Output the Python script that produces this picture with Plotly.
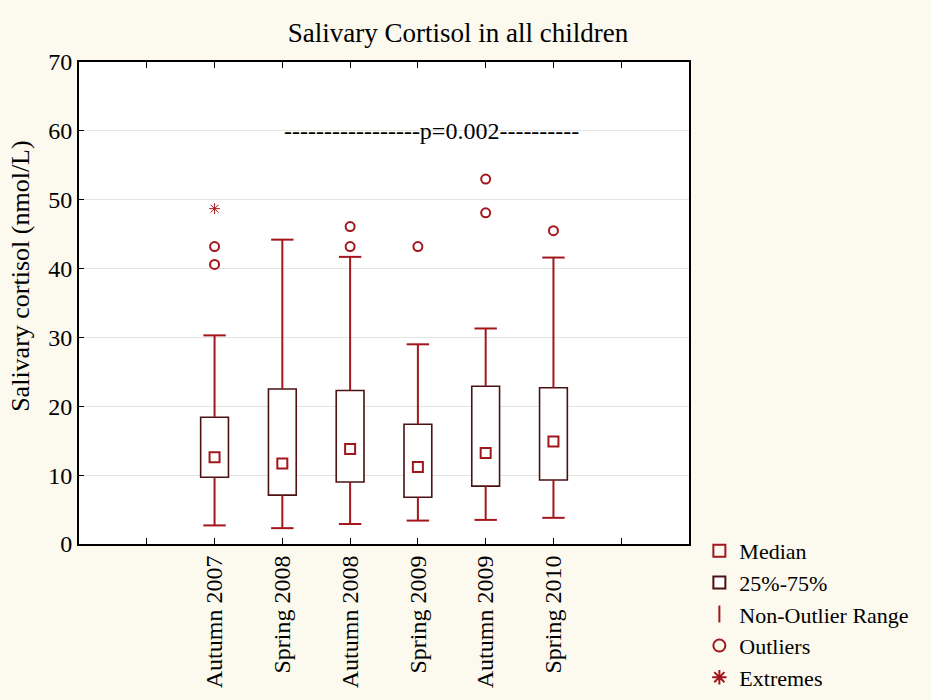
import plotly.graph_objects as go

categories = ["Autumn 2007", "Spring 2008", "Autumn 2008", "Spring 2009", "Autumn 2009", "Spring 2010"]
lower_whisker = [2.7, 2.3, 2.9, 3.4, 3.5, 3.8]
q1 = [9.7, 7.1, 9.0, 6.8, 8.4, 9.3]
median = [12.6, 11.7, 13.8, 11.2, 13.2, 14.9]
q3 = [18.4, 22.5, 22.3, 17.4, 22.9, 22.7]
upper_whisker = [30.3, 44.2, 41.7, 29.0, 31.3, 41.6]
outliers = [[43.2, 40.6], [], [46.1, 43.2], [43.2], [53.0, 48.1], [45.5]]
extremes = [[48.7], [], [], [], [], []]
y_ticks = [0, 10, 20, 30, 40, 50, 60, 70]
p_label = "-----------------p=0.002----------"
y_title = "Salivary cortisol (nmol/L)"

FONT = "Liberation Serif, Times New Roman, serif"
RED = "#a3161c"
DARK = "#4a1212"
BG = "#fcf9ee"

pos = [i + 2 for i in range(len(categories))]

fig = go.Figure()

# IQR boxes
fig.add_trace(go.Bar(
    x=pos, y=[b - a for a, b in zip(q1, q3)], base=q1, width=0.41,
    marker=dict(color="white", line=dict(color=DARK, width=1.6)),
    name="25%-75%", legendrank=2, hoverinfo="skip"))

# whiskers
wx, wy = [], []
for p, a, b, lo, hi in zip(pos, q1, q3, lower_whisker, upper_whisker):
    wx += [p, p, None, p, p, None]
    wy += [b, hi, None, a, lo, None]
fig.add_trace(go.Scatter(x=wx, y=wy, mode="lines", line=dict(color=RED, width=2),
                         showlegend=False, hoverinfo="skip"))
cx, cy = [], []
for p, lo, hi in zip(pos, lower_whisker, upper_whisker):
    cx += [p, p]
    cy += [lo, hi]
fig.add_trace(go.Scatter(x=cx, y=cy, mode="markers",
                         marker=dict(symbol="line-ew", size=16, line=dict(color=RED, width=2)),
                         name="Non-Outlier Range", legendrank=3, showlegend=False, hoverinfo="skip"))
# legend entry for whiskers
fig.add_trace(go.Scatter(x=[None], y=[None], mode="markers",
                         marker=dict(symbol="line-ns", size=18, line=dict(color=RED, width=2)),
                         name="Non-Outlier Range", legendrank=3))

# medians
fig.add_trace(go.Scatter(x=pos, y=median, mode="markers",
                         marker=dict(symbol="square-open", size=10, color=RED, line=dict(color=RED, width=2)),
                         name="Median", legendrank=1))

# outliers
ox, oy = [], []
for p, vals in zip(pos, outliers):
    for v in vals:
        ox.append(p)
        oy.append(v)
fig.add_trace(go.Scatter(x=ox, y=oy, mode="markers",
                         marker=dict(symbol="circle-open", size=9, color=RED, line=dict(color=RED, width=2)),
                         name="Outliers", legendrank=4))

# extremes
ex, ey = [], []
for p, vals in zip(pos, extremes):
    for v in vals:
        ex.append(p)
        ey.append(v)
fig.add_trace(go.Scatter(x=ex, y=ey, mode="markers",
                         marker=dict(symbol="asterisk-open", size=9, color=RED, line=dict(color=RED, width=1)),
                         name="Extremes", legendrank=5))

fig.add_annotation(x=5.2, y=60, xref="x", yref="y", text=p_label, showarrow=False,
                   font=dict(family=FONT, size=24, color="black"))
fig.add_annotation(x=-0.097, y=0.556, xref="paper", yref="paper", text=y_title, showarrow=False,
                   textangle=-90, xanchor="center", yanchor="middle",
                   font=dict(family=FONT, size=26, color="black"))

fig.update_layout(
    width=931, height=700,
    margin=dict(l=79, r=242, t=62, b=156, autoexpand=False),
    paper_bgcolor=BG, plot_bgcolor="white",
    font=dict(family=FONT, color="black"),
    title=dict(text="Salivary Cortisol in all children", x=0.492, xanchor="center",
               y=0.954, yanchor="middle", font=dict(family=FONT, size=27, color="black")),
    barmode="overlay",
    showlegend=True,
    legend=dict(x=1.017, xanchor="left", y=0.029, yanchor="top", bgcolor="rgba(0,0,0,0)",
                font=dict(family=FONT, size=22, color="black"), traceorder="normal",
                itemsizing="constant", itemwidth=30),
)
fig.update_xaxes(range=[0, 9], tickvals=list(range(1, 9)),
                 ticktext=[""] + categories + [""], tickangle=-90,
                 tickfont=dict(family=FONT, size=24), showgrid=False, automargin=False,
                 showline=True, linecolor="black", linewidth=2, mirror="ticks",
                 ticks="inside", ticklen=6, tickcolor="black", zeroline=False)
fig.update_yaxes(range=[0, 70], tickvals=y_ticks, tickfont=dict(family=FONT, size=24),
                 showgrid=True, gridcolor="#e4e4e4", gridwidth=1, automargin=False,
                 showline=True, linecolor="black", linewidth=2, mirror=True,
                 ticks="inside", ticklen=5, tickcolor="black", zeroline=False)

fig.write_html("out.html", config={"displayModeBar": False},
               post_script="document.body.style.margin='0';document.body.style.background='#fcf9ee';")
